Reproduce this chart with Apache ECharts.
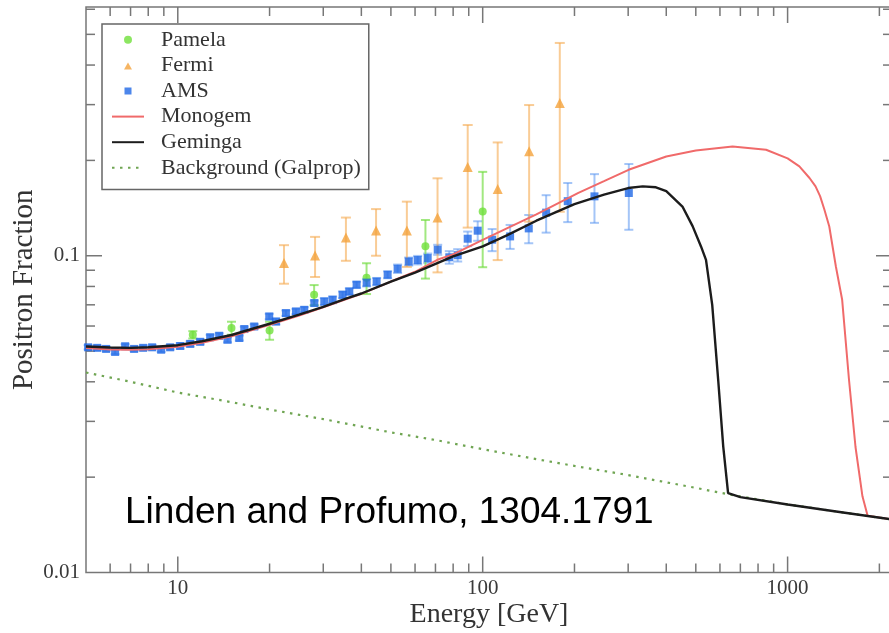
<!DOCTYPE html>
<html>
<head>
<meta charset="utf-8">
<style>
  html, body { margin: 0; padding: 0; background: #fff; }
  #chart { width: 889px; height: 633px; }
</style>
<script src="https://cdn.jsdelivr.net/npm/echarts@6.0.0/dist/echarts.min.js"></script>
</head>
<body>
<div id="chart"></div>
<script>
// model curves (energy in GeV, positron fraction)
var monogemE = [5, 6, 7, 8, 10, 12, 15, 20, 25, 30, 40, 50, 60, 71, 80, 100, 120, 150, 206, 250, 301, 400, 500, 660, 850, 1000, 1093, 1180, 1235, 1278, 1320, 1370, 1440, 1510, 1590, 1670, 1760, 1830, 2200];
var monogemVal = [0.0511, 0.0506, 0.0505, 0.0507, 0.0516, 0.0531, 0.0557, 0.0605, 0.0648, 0.0688, 0.0758, 0.0829, 0.0890, 0.0971, 0.1010, 0.1123, 0.1220, 0.1350, 0.1580, 0.1720, 0.1868, 0.2058, 0.2150, 0.2214, 0.2161, 0.2030, 0.1914, 0.1760, 0.1655, 0.1542, 0.1400, 0.1237, 0.0925, 0.0726, 0.0406, 0.0249, 0.0174, 0.0151, 0.0147];

var gemingaE = [5, 6, 7, 8, 10, 12, 15, 20, 25, 30, 36, 40, 50, 60, 71, 80, 100, 120, 150, 200, 250, 300, 335, 370, 400, 452, 488, 520, 540, 566, 592, 615, 638, 700, 1000, 1500, 2200];
var gemingaVal = [0.0517, 0.0513, 0.0512, 0.0514, 0.0522, 0.0537, 0.0562, 0.0610, 0.0652, 0.0690, 0.0735, 0.0760, 0.0829, 0.0885, 0.0948, 0.0995, 0.1070, 0.1160, 0.1290, 0.1455, 0.1560, 0.1636, 0.1656, 0.1645, 0.1600, 0.1430, 0.1240, 0.1070, 0.0970, 0.0700, 0.0406, 0.0250, 0.0178, 0.0173, 0.0164, 0.0155, 0.0147];

var bgE = [5, 7, 10, 15, 20, 30, 50, 70, 100, 150, 200, 300, 500, 650, 1000, 1500, 2200];
var bgVal = [0.0428, 0.0400, 0.0370, 0.0345, 0.0327, 0.0305, 0.0277, 0.0262, 0.0245, 0.0228, 0.0217, 0.0203, 0.0185, 0.0176, 0.0164, 0.0155, 0.0147];

// measurements
var pamelaE = [11.2, 15.0, 20.0, 28.0, 41.6, 64.9, 100];
var pamelaVal = [0.0563, 0.0591, 0.0581, 0.0753, 0.0852, 0.1072, 0.1380];
var pamelaErr = [0.0015, 0.0028, 0.0038, 0.0055, 0.0095, 0.0225, 0.0460];

var fermiE = [22.3, 28.2, 35.6, 44.7, 56.4, 71.1, 89.3, 112, 142, 179];
var fermiVal = [0.0948, 0.1002, 0.1142, 0.1202, 0.1202, 0.1321, 0.1907, 0.1624, 0.2136, 0.3037];
var fermiErr = [0.0132, 0.0145, 0.0178, 0.0202, 0.0280, 0.0435, 0.0680, 0.0655, 0.0855, 0.1660];

var amsE = [5.08, 5.44, 5.82, 6.23, 6.72, 7.19, 7.70, 8.24, 8.82, 9.44, 10.18, 10.98, 11.84, 12.77, 13.67, 14.56, 15.91, 16.52, 17.81, 19.95, 20.99, 22.63, 24.41, 25.99, 28.04, 30.23, 32.19, 34.72, 36.52, 38.59, 41.63, 44.89, 48.78, 52.6, 57.2, 61.2, 66.0, 71.2, 77.7, 82.8, 89.3, 96.3, 107.4, 123.0, 141.6, 161.5, 190.1, 232.6, 301.5];
var amsVal = [0.0514, 0.0512, 0.0508, 0.0497, 0.0518, 0.0508, 0.0512, 0.0514, 0.0505, 0.0514, 0.0519, 0.0527, 0.0535, 0.0553, 0.0559, 0.0543, 0.0550, 0.0587, 0.0598, 0.0643, 0.0620, 0.0659, 0.0667, 0.0675, 0.0709, 0.0717, 0.0726, 0.0753, 0.0771, 0.0810, 0.0822, 0.0829, 0.0871, 0.0910, 0.0959, 0.0969, 0.0983, 0.1045, 0.0989, 0.1004, 0.1132, 0.1200, 0.1124, 0.1151, 0.1220, 0.1368, 0.1487, 0.1540, 0.1578];
var amsErr = [0.0008, 0.0008, 0.0008, 0.0008, 0.0008, 0.0008, 0.0008, 0.0008, 0.0008, 0.0008, 0.0010, 0.0010, 0.0010, 0.0010, 0.0010, 0.0010, 0.0010, 0.0010, 0.0010, 0.0013, 0.0013, 0.0013, 0.0013, 0.0013, 0.0013, 0.0018, 0.0018, 0.0018, 0.0018, 0.0018, 0.0022, 0.0022, 0.0022, 0.0028, 0.0028, 0.0030, 0.0033, 0.0038, 0.0045, 0.0045, 0.0060, 0.0085, 0.0090, 0.0100, 0.0125, 0.0185, 0.0210, 0.0270, 0.0370];

// axis ticks and labels
var xMajorTicks = [10, 100, 1000];
var xMinorTicks = [6, 7, 8, 9, 20, 30, 40, 50, 60, 70, 80, 90, 200, 300, 400, 500, 600, 700, 800, 900, 2000];
var yMajorTicks = [0.1];
var yMinorTicks = [0.02, 0.03, 0.04, 0.05, 0.06, 0.07, 0.08, 0.09, 0.2, 0.3, 0.4, 0.5, 0.6];
var xTickLabels = ['10', '100', '1000'];
var yTickLabels = ['0.01', '0.1'];
var yLabelVals = [0.01, 0.1];

var frameColor = '#777';
var serif = '"Liberation Serif", "Times New Roman", serif';

// legend icons: small marker centred in a 32x8 box (the M points fix the box)
var triIcon = 'path://M0,0M32,8M12,8L16,1L20,8Z';
var sqIcon = 'path://M0,0M32,8M12.5,0.5L19.5,0.5L19.5,7.5L12.5,7.5Z';

function pairs(xs, ys) {
    return xs.map(function(x, i){ return [x, ys[i]]; });
}

function bars(xs, ys, errs) {
    return xs.map(function(x, i){ return [x, ys[i] - errs[i], ys[i] + errs[i]]; });
}

function errorBar(capHalf, color) {
    return function(params, api) {
        var x = api.value(0);
        var lo = api.coord([x, api.value(1)]);
        var hi = api.coord([x, api.value(2)]);
        var st = { stroke: color, lineWidth: 2 };
        return {
            type: 'group',
            children: [
                { type: 'line', shape: { x1: lo[0], y1: lo[1], x2: hi[0], y2: hi[1] }, style: st },
                { type: 'line', shape: { x1: lo[0] - capHalf, y1: lo[1], x2: lo[0] + capHalf, y2: lo[1] }, style: st },
                { type: 'line', shape: { x1: hi[0] - capHalf, y1: hi[1], x2: hi[0] + capHalf, y2: hi[1] }, style: st }
            ]
        };
    };
}

function xTicks(params, api) {
    var cs = params.coordSys;
    var px = api.coord([api.value(0), 0.1])[0];
    var len = api.value(1) ? 16 : 9;
    var st = { stroke: frameColor, lineWidth: 1.5 };
    var yb = cs.y + cs.height, yt = cs.y;
    return {
        type: 'group',
        children: [
            { type: 'line', shape: { x1: px, y1: yb, x2: px, y2: yb - len }, style: st },
            { type: 'line', shape: { x1: px, y1: yt, x2: px, y2: yt + len }, style: st }
        ]
    };
}

function yTicks(params, api) {
    var cs = params.coordSys;
    var py = api.coord([10, api.value(0)])[1];
    var len = api.value(1) ? 16 : 9;
    var st = { stroke: frameColor, lineWidth: 1.5 };
    var xl = cs.x, xr = cs.x + cs.width;
    return {
        type: 'group',
        children: [
            { type: 'line', shape: { x1: xl, y1: py, x2: xl + len, y2: py }, style: st },
            { type: 'line', shape: { x1: xr, y1: py, x2: xr - len, y2: py }, style: st }
        ]
    };
}

var xTickData = xMajorTicks.map(function(v){ return [v, 1]; })
    .concat(xMinorTicks.map(function(v){ return [v, 0]; }));
var yTickData = yMajorTicks.map(function(v){ return [v, 1]; })
    .concat(yMinorTicks.map(function(v){ return [v, 0]; }));

// line entries in the legend: hide the marker drawn in the middle of the line
var noMarker = { opacity: 0, borderWidth: 0 };

var chart = echarts.init(document.getElementById('chart'));

var option = {
    animation: false,
    backgroundColor: '#fff',
    grid: {
        left: 86,
        top: 7,
        width: 806,
        height: 565.5,
        show: true,
        borderColor: frameColor,
        borderWidth: 1.5,
        containLabel: false,
        outerBoundsMode: 'none'
    },
    legend: {
        orient: 'vertical',
        left: 102,
        top: 24,
        data: [
            { name: 'Pamela', icon: 'circle' },
            { name: 'Fermi', icon: triIcon },
            { name: 'AMS', icon: sqIcon },
            { name: 'Monogem', itemStyle: noMarker },
            { name: 'Geminga', itemStyle: noMarker },
            { name: 'Background (Galprop)', itemStyle: noMarker }
        ],
        itemWidth: 32,
        itemHeight: 8,
        itemGap: 0,
        padding: [3, 8, 9, 9],
        backgroundColor: '#fff',
        borderColor: '#666',
        borderWidth: 1.5,
        borderRadius: 0,
        textStyle: {
            fontFamily: serif,
            fontSize: 22,
            color: '#333',
            lineHeight: 25.6,
            padding: [0, 0, 0, 12]
        }
    },
    xAxis: {
        type: 'log',
        logBase: 10,
        min: 5,
        max: 2200,
        name: 'Energy [GeV]',
        nameLocation: 'middle',
        nameGap: 28,
        nameMoveOverlap: false,
        nameTextStyle: { fontFamily: serif, fontSize: 28, color: '#333' },
        axisLine: { show: false },
        axisTick: { show: false },
        splitLine: { show: false },
        axisLabel: {
            showMinLabel: false,
            showMaxLabel: false,
            margin: 5,
            fontFamily: serif,
            fontSize: 21,
            color: '#3a3a3a',
            formatter: function(v) {
                for (var i = 0; i < xMajorTicks.length; i++) {
                    if (Math.abs(v - xMajorTicks[i]) < 1e-6 * xMajorTicks[i]) return xTickLabels[i];
                }
                return '';
            }
        }
    },
    yAxis: {
        type: 'log',
        logBase: 10,
        min: 0.01,
        max: 0.61,
        name: 'Positron Fraction',
        nameLocation: 'middle',
        nameGap: 47,
        nameMoveOverlap: false,
        nameTextStyle: { fontFamily: serif, fontSize: 29, color: '#333' },
        axisLine: { show: false },
        axisTick: { show: false },
        splitLine: { show: false },
        axisLabel: {
            showMaxLabel: false,
            margin: 6,
            fontFamily: serif,
            fontSize: 21,
            color: '#3a3a3a',
            formatter: function(v) {
                for (var i = 0; i < yLabelVals.length; i++) {
                    if (Math.abs(v - yLabelVals[i]) < 1e-6 * yLabelVals[i]) return yTickLabels[i];
                }
                return '';
            }
        }
    },
    graphic: [{
        type: 'text',
        left: 125,
        top: 494,
        z: 100,
        style: {
            text: 'Linden and Profumo, 1304.1791',
            font: '37px "Liberation Sans", Arial, sans-serif',
            fill: '#000'
        }
    }],
    series: [
        {
            name: 'xticks', type: 'custom', silent: true, z: 1,
            renderItem: xTicks, encode: { x: 0 },
            data: xTickData
        },
        {
            name: 'yticks', type: 'custom', silent: true, z: 1,
            renderItem: yTicks, encode: { y: 0 },
            data: yTickData
        },
        {
            name: 'Background (Galprop)', type: 'line', z: 2,
            showSymbol: false, symbol: 'none',
            color: '#6fa552',
            lineStyle: { width: 2.2, type: [2.5, 5.5], color: '#6fa552' },
            data: pairs(bgE, bgVal)
        },
        {
            name: 'AMS err', type: 'custom', silent: true, z: 3,
            renderItem: errorBar(4.5, 'rgba(90,150,240,0.55)'),
            encode: { x: 0, y: [1, 2] },
            data: bars(amsE, amsVal, amsErr)
        },
        {
            name: 'Fermi err', type: 'custom', silent: true, z: 3,
            renderItem: errorBar(5, 'rgba(245,170,80,0.6)'),
            encode: { x: 0, y: [1, 2] },
            data: bars(fermiE, fermiVal, fermiErr)
        },
        {
            name: 'Pamela err', type: 'custom', silent: true, z: 3,
            renderItem: errorBar(4.5, 'rgba(110,220,60,0.65)'),
            encode: { x: 0, y: [1, 2] },
            data: bars(pamelaE, pamelaVal, pamelaErr)
        },
        {
            name: 'Pamela', type: 'scatter', z: 4,
            symbol: 'circle', symbolSize: 8,
            itemStyle: { color: '#6fe03a' },
            data: pairs(pamelaE, pamelaVal)
        },
        {
            name: 'Fermi', type: 'scatter', z: 4,
            symbol: 'triangle', symbolSize: 10,
            itemStyle: { color: '#f4a23c' },
            data: pairs(fermiE, fermiVal)
        },
        {
            name: 'AMS', type: 'scatter', z: 4,
            symbol: 'rect', symbolSize: 8,
            itemStyle: { color: '#1f68e6' },
            data: pairs(amsE, amsVal)
        },
        {
            name: 'Monogem', type: 'line', z: 5,
            showSymbol: false, symbol: 'none',
            color: '#f06a6a',
            lineStyle: { width: 2, color: '#f06a6a' },
            data: pairs(monogemE, monogemVal)
        },
        {
            name: 'Geminga', type: 'line', z: 6,
            showSymbol: false, symbol: 'none',
            color: '#1c1c1c',
            lineStyle: { width: 2.4, color: '#1c1c1c' },
            data: pairs(gemingaE, gemingaVal)
        }
    ]
};

chart.setOption(option);
</script>
</body>
</html>
